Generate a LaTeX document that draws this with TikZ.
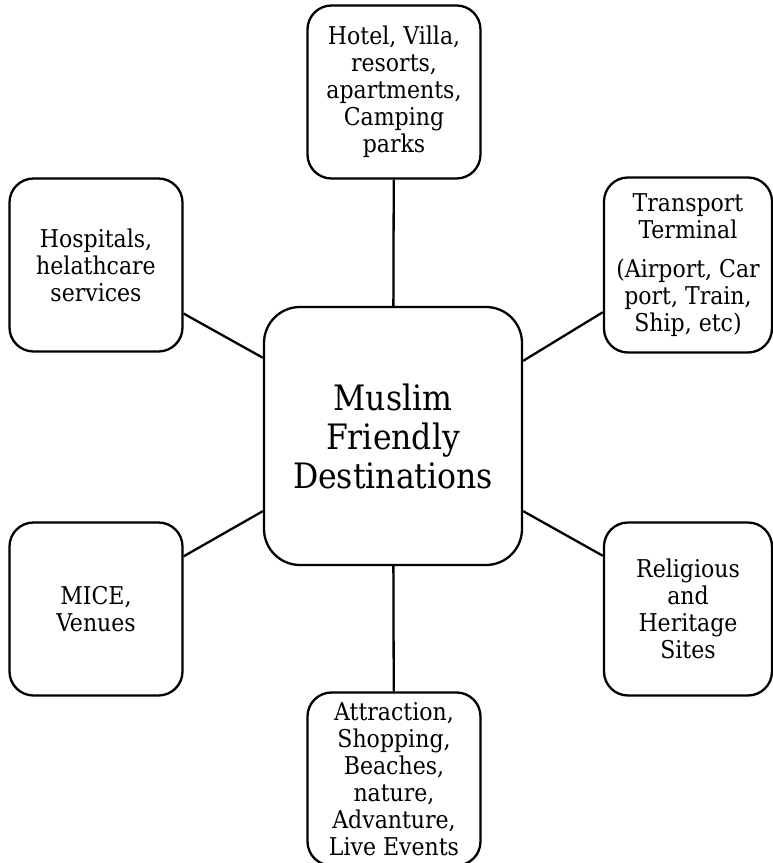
\documentclass[tikz,border=0pt]{standalone}
\usepackage{fontspec}
\setmainfont{DejaVu Serif Condensed}
\usetikzlibrary{positioning}

\begin{document}
\begin{tikzpicture}[x=1pt, y=1pt, line width=2.3pt,
  item/.style={draw, rounded corners=24pt, minimum width=173pt, minimum height=173pt,
    align=center, inner sep=2pt, font=\fontsize{24.5}{27}\selectfont},
  hub/.style={draw, rounded corners=36pt, minimum size=258pt, align=center,
    font=\fontsize{35}{39}\selectfont}]
  \useasboundingbox (0,0) rectangle (772,863);

  % centre
  \node[hub] (hub) at (393,427) {Muslim\\Friendly\\Destinations};

  % surrounding services
  \node[item] (hotel) at (394,771) {Hotel, Villa,\\resorts,\\apartments,\\Camping\\parks};
  \node[item, minimum width=168pt, minimum height=175pt] (transport) at (688,598)
    {Transport\\Terminal\\[12pt](Airport, Car\\port, Train,\\Ship, etc)};
  \node[item] (hospital) at (96,598) {Hospitals,\\helathcare\\services};
  \node[item, minimum width=168pt] (religious) at (688,254) {Religious\\and\\Heritage\\Sites};
  \node[item] (mice) at (96,254) {MICE,\\Venues};
  \node[item] (attraction) at (394,84) {Attraction,\\Shopping,\\Beaches,\\nature,\\Advanture,\\Live Events};

  % connectors
  \draw (hotel) -- (hub);
  \draw (hub) -- (attraction);
  \draw (hospital.-29) -- (hub.149.5);
  \draw (transport.209) -- (hub.30.5);
  \draw (mice.31) -- (hub.210.5);
  \draw (religious.148) -- (hub.-30.5);
\end{tikzpicture}
\end{document}
